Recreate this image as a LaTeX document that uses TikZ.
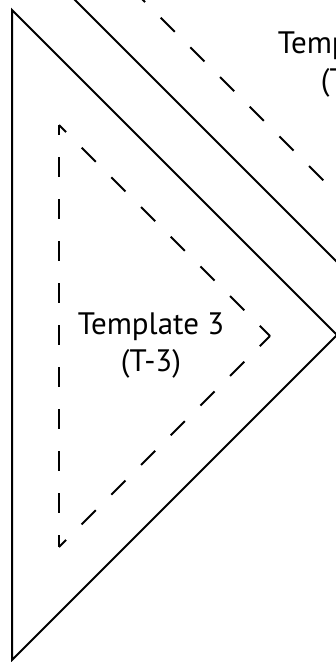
\documentclass[tikz,border=0pt]{standalone}
\usepackage{fontspec}
\setmainfont{PT Sans}

\begin{document}
\begin{tikzpicture}[x=1pt, y=-1pt, line width=2pt,
    cutline/.style={dash pattern=on 20pt off 22pt, dash phase=10pt},
    tlabel/.style={font=\fontsize{31}{37}\selectfont, align=center, inner sep=0pt}]
            \useasboundingbox (0,0) rectangle (336,662);
            \clip (0,0) rectangle (336,662);

            % outer triangle
            \coordinate (A1) at (12, 10);
            \coordinate (A2) at (12, 660);
            \coordinate (A3) at (337, 335);
            \draw[] (A1) -- (A3) -- (A2) -- cycle;

            % sewing line of template 3
            \coordinate (B1) at (59, 125);
            \coordinate (B2) at (59, 547);
            \coordinate (B3) at (270, 336);
            \draw[cutline] (B1) -- (B2);
            \draw[cutline] (B2) -- (B3);
            \draw[cutline] (B1) -- (B3);

            \node[tlabel] (T3) at (151, 346) {Template 3\\(T-3)};

            % next template, cut by the edge
            \coordinate (C1) at (70, -5);
            \coordinate (C2) at (350, 275);
            \draw[] (C1) -- (C2);
            \coordinate (D1) at (138, -5);
            \coordinate (D2) at (350, 207);
            \draw[cutline] (D1) -- (D2);

            \node[tlabel] (T2) at (351, 64) {Template 2\\(T-2)};

        \end{tikzpicture}
\end{document}
